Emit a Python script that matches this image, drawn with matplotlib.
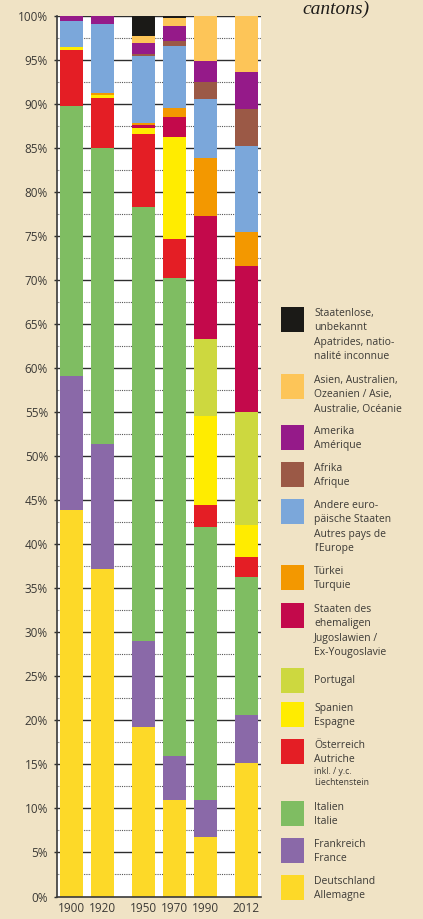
import matplotlib
matplotlib.use("Agg")
import matplotlib.pyplot as plt
from matplotlib.patches import Rectangle
import numpy as np

# Share of foreign resident population by nationality (percent)
years = ["1900", "1920", "1950", "1970", "1990", "2012"]
deutschland = [43.9, 37.2, 19.3, 10.9, 6.7, 15.1]
frankreich = [15.2, 14.2, 9.7, 5.1, 4.3, 5.5]
italien = [30.7, 33.6, 49.3, 54.2, 30.9, 15.7]
oesterreich = [6.3, 5.7, 8.3, 4.4, 2.6, 2.2]
spanien = [0.3, 0.3, 0.6, 11.6, 10.0, 3.7]
portugal = [0.0, 0.0, 0.0, 0.0, 8.8, 12.8]
jugoslawien = [0.0, 0.0, 0.4, 2.3, 14.0, 16.6]
tuerkei = [0.0, 0.2, 0.2, 1.0, 6.5, 3.8]
andere_europa = [3.0, 7.9, 7.6, 7.1, 6.7, 9.8]
afrika = [0.0, 0.0, 0.3, 0.5, 2.0, 4.2]
amerika = [0.6, 0.9, 1.2, 1.7, 2.4, 4.2]
asien = [0.0, 0.0, 0.8, 0.9, 5.1, 6.4]
staatenlose = [0.0, 0.0, 2.3, 0.3, 0.0, 0.0]

# stacking order bottom -> top
series = [
    (deutschland, "#fdd928", ["Deutschland", "Allemagne"]),
    (frankreich, "#8a69a8", ["Frankreich", "France"]),
    (italien, "#7fbd62", ["Italien", "Italie"]),
    (oesterreich, "#e41e25", ["Österreich", "Autriche", "inkl. / y.c.", "Liechtenstein"]),
    (spanien, "#ffec00", ["Spanien", "Espagne"]),
    (portugal, "#cdd83f", ["Portugal"]),
    (jugoslawien, "#c3094b", ["Staaten des", "ehemaligen", "Jugoslawien /", "Ex-Yougoslavie"]),
    (tuerkei, "#f39800", ["Türkei", "Turquie"]),
    (andere_europa, "#7ba7da", ["Andere euro-", "päische Staaten", "Autres pays de", "l'Europe"]),
    (afrika, "#9b5946", ["Afrika", "Afrique"]),
    (amerika, "#951a89", ["Amerika", "Amérique"]),
    (asien, "#fdc558", ["Asien, Australien,", "Ozeanien / Asie,", "Australie, Océanie"]),
    (staatenlose, "#1b1a17", ["Staatenlose,", "unbekannt", "Apatrides, natio-", "nalité inconnue"]),
]

BG = "#f0e3c5"
TXT = "#3c3a36"
W, H = 423, 919

plt.rcParams['font.family'] = ['Open Sans', 'DejaVu Sans']

fig = plt.figure(figsize=(W / 100, H / 100), dpi=100, facecolor=BG)

def fx(px):
    return px / W

def fy(py):
    return 1 - py / H

# plot area in pixels
ax_l, ax_r, ax_t, ax_b = 57, 261, 15.7, 896.5
ax = fig.add_axes([fx(ax_l), fy(ax_b), fx(ax_r) - fx(ax_l), (ax_b - ax_t) / H])
ax.set_facecolor("white")

# bar slots: wider gaps where the time step is larger
x_pos = np.array([0, 1, 2.32, 3.32, 4.32, 5.64])
slot = 31.0
ax.set_xlim((ax_l - 71.5) / slot, (ax_r - 71.5) / slot)
ax.set_ylim(0, 100)

bottom = np.zeros(len(years))
for vals, col, _ in series:
    v = np.array(vals)
    ax.bar(x_pos, v, bottom=bottom, width=23 / slot, color=col, linewidth=0, zorder=3)
    bottom += v

# grid: solid every 5 %, dotted halfway between
for y in np.arange(5, 100.1, 5):
    ax.axhline(y, color="#2e2e2e", lw=1.0, zorder=1)
for y in np.arange(2.5, 100, 5):
    ax.axhline(y, color="#555555", lw=0.8, ls=(0, (1, 1)), zorder=1)

ax.set_yticks(np.arange(0, 101, 5))
ax.set_yticklabels([f"{int(t)}%" for t in np.arange(0, 101, 5)], fontsize=8.5, color=TXT)
ax.set_xticks(x_pos)
ax.set_xticklabels(years, fontsize=8.5, color=TXT)
ax.tick_params(axis="y", length=2.5, width=1.0, color="#2e2e2e", pad=4)
ax.tick_params(axis="x", length=0, pad=4)
for s in ["top", "right"]:
    ax.spines[s].set_visible(False)
for s in ["left", "bottom"]:
    ax.spines[s].set_color("#3a3a3a")
    ax.spines[s].set_linewidth(1.2)
    ax.spines[s].set_zorder(4)

# heading fragment at top right
fig.text(fx(302), fy(14), "cantons)", family="Liberation Serif", style="italic",
         fontsize=14, color="#1e1c1a", va="baseline", ha="left")

# legend, drawn top to bottom
legend_tops = [307, 374, 425, 462, 499, 565, 603, 668, 702, 739, 801, 838, 875]
patch_x, patch_w, patch_h = 281, 23, 24.5
text_x = 314
line_h = 14.4
for (vals, col, lines), top in zip(series[::-1], legend_tops):
    fig.patches.append(Rectangle((fx(patch_x), fy(top + patch_h)), patch_w / W, patch_h / H,
                                 transform=fig.transFigure, facecolor=col, edgecolor="none"))
    if len(lines) == 1:
        fig.text(fx(text_x), fy(top + patch_h / 2), lines[0], fontsize=7.5, color=TXT,
                 va="center", ha="left")
        continue
    y = top + 6.5
    for i, line in enumerate(lines):
        small = line in ("inkl. / y.c.", "Liechtenstein")
        if small and i == 2:
            y += 14.0 - 2.5
        elif small:
            y += 11.0
        elif i > 0:
            y += line_h
        fig.text(fx(text_x), fy(y), line, fontsize=6.3 if small else 7.5, color=TXT,
                 va="center", ha="left")

fig.savefig("out.png", dpi=100, facecolor=BG)
